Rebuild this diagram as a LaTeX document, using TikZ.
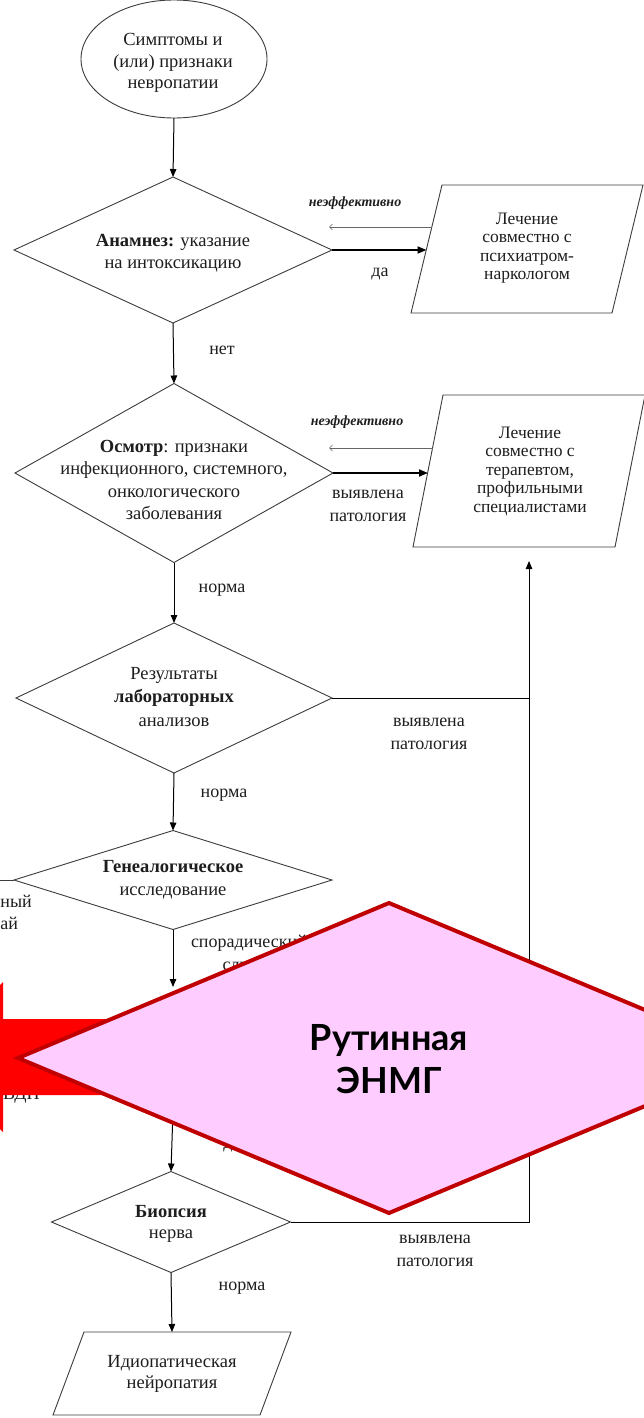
\documentclass[tikz,border=0pt]{standalone}
\usepackage{fontspec}
\setmainfont{Liberation Serif}
\newfontfamily\gothic{Lato}
\usetikzlibrary{shapes.geometric,arrows.meta,calc}

\definecolor{lineink}{RGB}{60,60,60}
\definecolor{textink}{RGB}{30,30,30}
\definecolor{pinkfill}{RGB}{255,204,255}
\definecolor{darkred}{RGB}{192,0,0}
\definecolor{brightred}{RGB}{255,0,0}

% outline of a slanted (input/output) box around a rectangular node
\newcommand{\slantoutline}[2]{%
  \draw[box] ($(#1.north west)+(#2,0)$) -- ($(#1.north east)+(#2,0)$)
    -- ($(#1.south east)-(#2,0)$) -- ($(#1.south west)-(#2,0)$) -- cycle;}

\begin{document}
\begin{tikzpicture}[x=1pt,y=-1pt,
  every node/.style={inner sep=0pt, outer sep=0pt},
  box/.style={draw=lineink, line width=0.9pt},
  rhomb/.style={box, shape=diamond},
  oval/.style={box, shape=ellipse},
  iobox/.style={shape=rectangle},
  txt/.style={align=center, text=textink, font=\fontsize{18.5}{21.5}\selectfont},
  ptxt/.style={align=center, text=textink, font=\fontsize{17.5}{18.5}\selectfont},
  lbl/.style={align=center, text=textink, font=\fontsize{18}{23.5}\selectfont},
  note/.style={text=textink, font=\fontsize{14}{15}\selectfont\bfseries\itshape},
  flow/.style={draw=black, line width=1pt, -{Triangle[length=8pt,width=6.5pt]}},
  heavyflow/.style={draw=black, line width=1.8pt, -{Triangle[length=9pt,width=7pt]}},
  backflow/.style={draw=black!60, line width=0.7pt, -{Straight Barb[length=3pt,width=6pt]}},
  link/.style={draw=black, line width=1pt},
]
\useasboundingbox (0,0) rectangle (644,1418);
\fill[white] (0,0) rectangle (644,1418);
\clip (0,0) rectangle (644,1418);

% ---- shapes of the flowchart ----
\node[oval, minimum width=186pt, minimum height=118pt] (start) at (174,59) {};
\node[txt] (tstart) at (173,63) {Симптомы и\\(или) признаки\\невропатии};

\node[rhomb, minimum width=318pt, minimum height=146pt] (d1) at (173,250) {};
\node[txt] (t1) at (173,253) {\textbf{Анамнез:} указание\\на интоксикацию};

\node[rhomb, minimum width=318pt, minimum height=179pt] (d2) at (174,473) {};
\node[txt, font=\fontsize{18.5}{22.5}\selectfont] (t2) at (174,480)
  {\textbf{Осмотр}: признаки\\инфекционного, системного,\\онкологического\\заболевания};

\node[rhomb, minimum width=316pt, minimum height=150pt] (d3) at (174,698) {};
\node[txt, font=\fontsize{18.5}{23.5}\selectfont] (t3) at (174,697)
  {Результаты\\\textbf{лабораторных}\\анализов};

\node[rhomb, minimum width=318pt, minimum height=99pt] (d4) at (173,880) {};
\node[txt, font=\fontsize{18.5}{23}\selectfont] (t4) at (173,880)
  {\textbf{Генеалогическое}\\исследование};

\node[rhomb, minimum width=239pt, minimum height=101pt] (d5) at (171,1222) {};
\node[txt] (t5) at (171,1224) {\textbf{Биопсия}\\нерва};

\node[iobox, minimum width=201pt, minimum height=128pt] (p1) at (527,249) {};
\slantoutline{p1}{15.5}
\node[ptxt] (tp1) at (527,248) {Лечение\\совместно с\\психиатром-\\наркологом};

\node[iobox, minimum width=202pt, minimum height=152pt] (p2) at (529,471) {};
\slantoutline{p2}{15}
\node[ptxt] (tp2) at (530,471)
  {Лечение\\совместно с\\терапевтом,\\профильными\\специалистами};

\node[iobox, minimum width=207pt, minimum height=83pt] (p3) at (172,1373.5) {};
\slantoutline{p3}{15.5}
\node[txt] (tp3) at (172,1374) {Идиопатическая\\нейропатия};

% ---- connectors ----
\draw[flow] (start.south) -- (d1.north);
\draw[flow] (d1.south) -- (d2.north);
\draw[flow] (d2.south) -- (d3.north);
\draw[flow] (d3.south) -- (d4.north);
\coordinate (hidA) at (173,987);
\coordinate (hidB) at (173,1110);
\draw[flow] (d4.south) -- (hidA);
\draw[flow] (hidB) -- (d5.north);
\draw[flow] (d5.south) -- (p3.north);

\draw[heavyflow] (d1.east) -- (d1.east -| p1.west);
\draw[heavyflow] (d2.east) -- (d2.east -| p2.west);

\coordinate (b1s) at ([shift={(5pt,22pt)}]p1.west);
\coordinate (b1e) at ([shift={(-3pt,23pt)}]d1.east);
\draw[backflow] (b1s) -- (b1s -| b1e);
\coordinate (b2s) at ([shift={(4.5pt,23pt)}]p2.west);
\coordinate (b2e) at ([shift={(-4pt,25pt)}]d2.east);
\draw[backflow] (b2s) -- (b2s -| b2e);

\coordinate (rail) at ($(p2.center)+(0,90)$);
\draw[link] (d3.east) -- (d3.east -| rail);
\draw[flow] (d5.east) -| (rail);

\coordinate (leftend) at (0,880);
\draw[link, draw=lineink, line width=0.9pt] (d4.west) -- (leftend);

% ---- connector labels ----
\node[note] (n1) at (355,203) {неэффективно};
\node[note] (n2) at (357,422) {неэффективно};
\node[lbl] (l1) at (380,274) {да};
\node[lbl] (l2) at (222,350) {нет};
\node[lbl] (l3) at (368,506) {выявлена\\патология};
\node[lbl] (l4) at (222,590) {норма};
\node[lbl] (l5) at (429,734) {выявлена\\патология};
\node[lbl] (l6) at (224,795) {норма};
\node[lbl, anchor=west] (l7) at (191,955) {спорадический\\случай};
\node[lbl, anchor=west] (l8) at (0.5,901) {ный};
\node[lbl, anchor=west] (l9) at (0.5,923) {ай};
\node[lbl, anchor=west] (l10) at (3,1096) {ВДП};
\node[lbl] (l11) at (232,1146) {да};
\node[lbl] (l12) at (435,1251) {выявлена\\патология};
\node[lbl] (l13) at (242,1288) {норма};

% ---- highlighted overlay: block arrow and routine ENMG diamond ----
\fill[brightred] (3,982) -- (3,1019) -- (220,1019) -- (220,1095) -- (3,1095)
  -- (3,1132) -- (-72,1057) -- cycle;
\node[shape=diamond, fill=pinkfill, draw=darkred, line width=4pt,
      minimum width=742pt, minimum height=310pt] (enmg) at (389,1058) {};
\node[align=center, font=\gothic\bfseries\fontsize{36}{43}\selectfont, text=black]
  (tenmg) at (389,1059) {Рутинная\\ЭНМГ};
\end{tikzpicture}
\end{document}
